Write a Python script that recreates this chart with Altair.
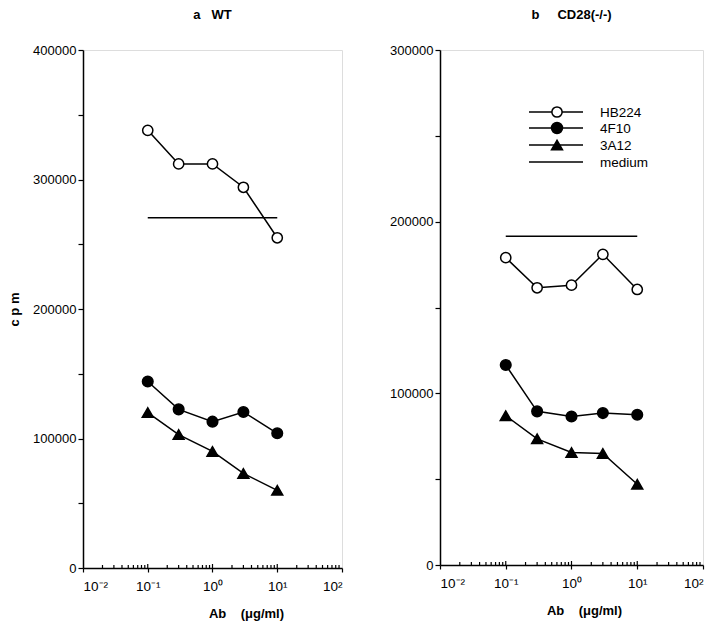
import altair as alt
import pandas as pd

# ---- data ----
conc = [0.1, 0.3, 1, 3, 10]
series_names = ["HB224", "4F10", "3A12"]

wt_hb224 = [338000, 312000, 312000, 294000, 255000]
wt_4f10 = [144000, 122500, 113000, 120500, 104000]
wt_3a12 = [120000, 103000, 90000, 73000, 60000]
wt_medium = 270500

ko_hb224 = [179000, 161500, 163000, 181000, 160500]
ko_4f10 = [116500, 89500, 86500, 88500, 87500]
ko_3a12 = [87000, 73500, 65500, 65000, 47000]
ko_medium = 191500

medium_span = [0.1, 10]
legend_labels = ["HB224", "4F10", "3A12", "medium"]

x_ticks = [0.01, 0.1, 1, 10, 100]
x_tick_labels = ["10\u207b\u00b2", "10\u207b\u00b9", "10\u2070", "10\u00b9", "10\u00b2"]

FONT = "Liberation Sans"

minor_ticks = [m * d for d in x_ticks[:-1] for m in range(2, 10)]

label_expr = ""
for t, lab in zip(x_ticks[:-1], x_tick_labels[:-1]):
    label_expr += f"datum.value < {t * 3.1623} ? '{lab}' : "
label_expr += f"'{x_tick_labels[-1]}'"


def panel(hb, f10, a12, med, ymax, width, height, title, title_offset,
          y_title, x_title_x, legend=False):
    rows = []
    for name, vals in zip(series_names, [hb, f10, a12]):
        for c, v in zip(conc, vals):
            rows.append({"x": c, "y": v, "series": name})
    df = pd.DataFrame(rows)

    xscale = alt.Scale(type="log", domain=[x_ticks[0], x_ticks[-1]])
    yscale = alt.Scale(domain=[0, ymax], nice=False)

    xaxis = alt.Axis(
        values=x_ticks, labelExpr=label_expr, title="Ab\u00a0\u00a0\u00a0\u00a0(\u03bcg/ml)",
        grid=False, tickSize=4, tickColor="black", domainColor="black",
        labelFont=FONT, labelFontSize=13.5, labelColor="black", labelPadding=7,
        titleFont=FONT, titleFontSize=13, titleFontWeight="bold", titleColor="black",
        titlePadding=15, titleX=x_title_x,
        domainWidth=1.5, tickWidth=1.2,
    )
    yaxis_kwargs = dict(
        values=list(range(0, ymax + 1, 50000)), format="d",
        labelExpr="datum.value % 100000 == 0 ? datum.label : ''",
        grid=False, tickSize=5, tickColor="black", domainColor="black",
        labelFont=FONT, labelFontSize=13, labelColor="black", labelPadding=2,
        domainWidth=1.5, tickWidth=1.2,
    )
    if y_title:
        yaxis = alt.Axis(title="c\u00a0p\u00a0m", titleFont=FONT, titleFontSize=13,
                         titleFontWeight="bold", titleColor="black", titlePadding=11,
                         **yaxis_kwargs)
    else:
        yaxis = alt.Axis(title=None, **yaxis_kwargs)

    base = alt.Chart(df)
    lines = base.mark_line(color="black", strokeWidth=1.5).encode(
        x=alt.X("x:Q", scale=xscale, axis=xaxis),
        y=alt.Y("y:Q", scale=yscale, axis=yaxis),
        detail="series:N",
    )
    shape_scale = alt.Scale(domain=series_names, range=["circle", "circle", "triangle-up"])
    fill_scale = alt.Scale(domain=series_names, range=["white", "black", "black"])
    size_scale = alt.Scale(domain=series_names, range=[105, 120, 120])
    points = base.mark_point(filled=True, stroke="black", strokeWidth=1.5, opacity=1).encode(
        x=alt.X("x:Q", scale=xscale),
        y=alt.Y("y:Q", scale=yscale),
        shape=alt.Shape("series:N", scale=shape_scale, legend=None),
        fill=alt.Fill("series:N", scale=fill_scale, legend=None),
        size=alt.Size("series:N", scale=size_scale, legend=None),
    )
    med_df = pd.DataFrame({"x": [medium_span[0]], "x2": [medium_span[1]], "y": [med]})
    medium = alt.Chart(med_df).mark_rule(color="black", strokeWidth=1.5).encode(
        x=alt.X("x:Q", scale=xscale), x2="x2:Q", y=alt.Y("y:Q", scale=yscale)
    )
    tick_df = pd.DataFrame({"x": minor_ticks})
    minor = alt.Chart(tick_df).mark_rule(color="black", strokeWidth=1.2).encode(
        x=alt.X("x:Q", scale=xscale), y=alt.value(height), y2=alt.value(height - 3)
    )
    major_df = pd.DataFrame({"x": x_ticks[1:-1]})
    major_in = alt.Chart(major_df).mark_rule(color="black", strokeWidth=1.2).encode(
        x=alt.X("x:Q", scale=xscale), y=alt.value(height), y2=alt.value(height - 4)
    )
    layers = [minor, major_in, medium, lines, points]

    if legend:
        ly = [62, 78, 95, 112]
        lx0, lx1, lsym, ltext = 89, 143, 117, 160
        for i, lab in enumerate(legend_labels):
            one = pd.DataFrame({"label": [lab]})
            layers.append(alt.Chart(one).mark_rule(color="black", strokeWidth=1.5).encode(
                x=alt.value(lx0), x2=alt.value(lx1), y=alt.value(ly[i])))
            if i < 3:
                layers.append(alt.Chart(one).mark_point(
                    filled=True, stroke="black", strokeWidth=1.5, opacity=1,
                    shape=["circle", "circle", "triangle-up"][i],
                    fill=["white", "black", "black"][i],
                    size=[105, 120, 120][i],
                ).encode(x=alt.value(lsym), y=alt.value(ly[i])))
            layers.append(alt.Chart(one).mark_text(
                align="left", baseline="middle", font=FONT, fontSize=13.5, color="black"
            ).encode(x=alt.value(ltext), y=alt.value(ly[i] + 1), text="label:N"))

    return alt.layer(*layers).properties(
        width=width, height=height,
        title=alt.TitleParams(title, font=FONT, fontSize=13, fontWeight="bold",
                              color="black", anchor="middle", offset=title_offset),
    )


pa = panel(wt_hb224, wt_4f10, wt_3a12, wt_medium, 400000, 259, 518,
           "a\u00a0\u00a0\u00a0WT", 22, True, 163)
pb = panel(ko_hb224, ko_4f10, ko_3a12, ko_medium, 300000, 263, 515,
           "b\u00a0\u00a0\u00a0\u00a0\u00a0CD28(-/-)", 22, False, 144, legend=True)

chart = alt.hconcat(pa, pb, spacing=45).properties(
    padding={"left": 0, "top": 0, "right": 0, "bottom": 0}
).configure_view(stroke="black", strokeWidth=1.5).configure(background="white")

chart.save("out.html", embed_options={"renderer": "svg", "actions": False})
